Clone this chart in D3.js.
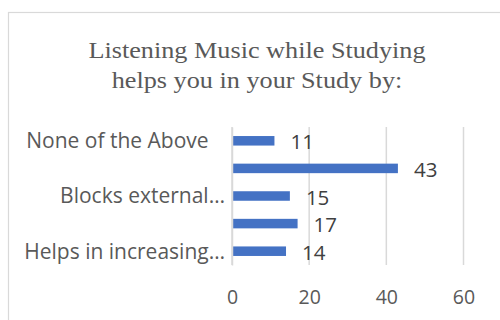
<!DOCTYPE html>
<html><head><meta charset="utf-8">
<script src="https://cdn.jsdelivr.net/npm/d3@7"></script>
<style>body{margin:0;background:#fff}svg{display:block}</style>
</head><body>
<script>
const categories = ["None of the Above\u00a0\u00a0\u00a0", "", "Blocks external…", "", "Helps in increasing…"];
const values = [11, 43, 15, 17, 14];
const xTicks = [0, 20, 40, 60];
const titleLines = ["Listening Music while Studying", "helps you in your Study by:"];

const W = 500, H = 320;
const svg = d3.select("body").append("svg").attr("width", W).attr("height", H);
svg.append("rect").attr("x", 8.5).attr("y", 12.5).attr("width", 520).attr("height", 340)
  .attr("fill", "#fff").attr("stroke", "#d9d9d9").attr("stroke-width", 1.2);

const x = d3.scaleLinear().domain([0, 60]).range([232, 463.5]);
const idx = d3.range(categories.length);
const y = d3.scaleBand().domain(idx).range([127, 265]).paddingInner(0.655).paddingOuter(0.3275);

const t = svg.append("text").attr("text-anchor", "middle").attr("fill", "#595959")
  .attr("transform", "translate(257,0) scale(1.14,1)")
  .style("font-family", "'Liberation Serif','Times New Roman',serif").style("font-size", "23px");
titleLines.forEach((l, i) => t.append("tspan").attr("x", 0).attr("y", 57.7 + i * 30.6).text(l));

// gridlines
svg.append("g").selectAll("line").data(xTicks).join("line")
  .attr("x1", d => x(d)).attr("x2", d => x(d)).attr("y1", 127).attr("y2", 265)
  .attr("stroke", "#d9d9d9").attr("stroke-width", 1.5);

const xAxis = svg.append("g").attr("transform", "translate(0,265)")
  .call(d3.axisBottom(x).tickValues(xTicks).tickSize(0).tickPadding(0));
xAxis.select(".domain").remove();
xAxis.selectAll("text").attr("dy", 0).attr("y", 38.5).attr("fill", "#595959")
  .style("font-family", "'Open Sans',Calibri,sans-serif").style("font-size", "19.5px");

svg.append("g").selectAll("rect").data(values).join("rect")
  .attr("x", x(0)).attr("y", (d, i) => y(i)).attr("width", d => x(d) - x(0))
  .attr("height", y.bandwidth()).attr("fill", "#4472c4");

svg.append("g").selectAll("text").data(values).join("text")
  .attr("x", d => x(d) + 16).attr("y", (d, i) => y(i) + y.bandwidth() / 2 + 8.5)
  .attr("fill", "#404040").style("font-family", "'Open Sans',Calibri,sans-serif").style("font-size", "20.5px")
  .text(d => d);

const yAxis = svg.append("g").attr("transform", "translate(232,0)")
  .call(d3.axisLeft(y).tickSize(0).tickPadding(7).tickFormat(i => categories[i]));
yAxis.select(".domain").attr("stroke", "#d9d9d9").attr("stroke-width", 1.5);
yAxis.selectAll("text").attr("fill", "#595959").attr("dy", "0.35em")
  .style("white-space", "pre")
  .style("font-family", "'Open Sans',Calibri,sans-serif").style("font-size", "21px");
</script>
</body></html>
